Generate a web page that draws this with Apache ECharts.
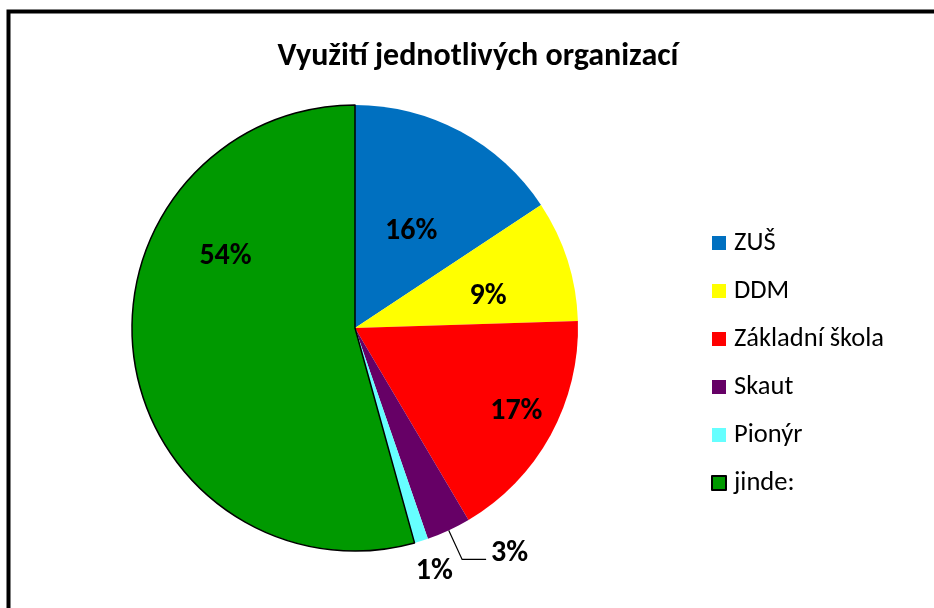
<!DOCTYPE html>
<html>
<head>
<meta charset="utf-8">
<script src="https://cdn.jsdelivr.net/npm/echarts@6/dist/echarts.min.js"></script>
<style>
html,body{margin:0;padding:0;background:#fff;}
#chart{width:934px;height:608px;}
</style>
</head>
<body>
<div id="chart"></div>
<script>
const titleText = 'Využití jednotlivých organizací';
const categories = ['ZUŠ', 'DDM', 'Základní škola', 'Skaut', 'Pionýr', 'jinde:'];
const values = [15.7, 8.8, 17.0, 3.2, 1.0, 54.3];
const colors = ['#0070C0', '#FFFF00', '#FF0000', '#660066', '#66FFFF', '#009900'];
const labelShift = [[2, 4], [24, 3], [61, 28], [0, -6], [-14, 19], [-16, -87]];

const FONT = 'Carlito, "Open Sans", sans-serif';
const chart = echarts.init(document.getElementById('chart'), null, {renderer: 'canvas'});

const data = categories.map((name, i) => {
  const d = {
    name: name,
    value: values[i],
    itemStyle: {color: colors[i]}
  };
  if (name === 'jinde:') {
    d.itemStyle.borderColor = '#000';
    d.itemStyle.borderWidth = 1.5;
  }
  if (name === 'Skaut') {
    d.label = {position: 'outside'};
    d.labelLine = {show: true, length: 32, length2: 24, lineStyle: {color: '#000', width: 1.2}};
  } else if (name === 'Pionýr') {
    d.label = {position: 'outside'};
    d.labelLine = {show: false, length: 12, length2: 0};
  } else {
    d.label = {position: 'inside'};
    d.labelLine = {show: false};
  }
  return d;
});

chart.setOption({
  animation: false,
  backgroundColor: '#fff',
  title: {
    text: titleText,
    left: 473,
    top: 36,
    textAlign: 'center',
    textStyle: {fontFamily: FONT, fontSize: 32, fontWeight: 'bold', color: '#000'}
  },
  legend: {
    orient: 'vertical',
    left: 706,
    top: 224,
    itemWidth: 14,
    itemHeight: 14,
    itemGap: 20,
    icon: 'rect',
    textStyle: {fontFamily: FONT, fontSize: 26.5, lineHeight: 28, color: '#000', padding: [0, 0, 0, 3]},
    data: categories
  },
  graphic: [{
    type: 'rect',
    shape: {x: 8.5, y: 11.5, width: 940, height: 620},
    style: {fill: 'none', stroke: '#000', lineWidth: 4},
    silent: true,
    z: 100
  }],
  series: [{
    type: 'pie',
    center: [355, 328],
    radius: 223,
    startAngle: 90,
    clockwise: true,
    avoidLabelOverlap: false,
    label: {
      show: true,
      formatter: p => Math.round(p.percent) + '%',
      fontFamily: FONT,
      fontSize: 30,
      fontWeight: 'bold',
      color: '#000'
    },
    labelLayout: function (p) {
      const s = labelShift[p.dataIndex];
      return {dx: s[0], dy: s[1]};
    },
    data: data
  }]
});
</script>
</body>
</html>
